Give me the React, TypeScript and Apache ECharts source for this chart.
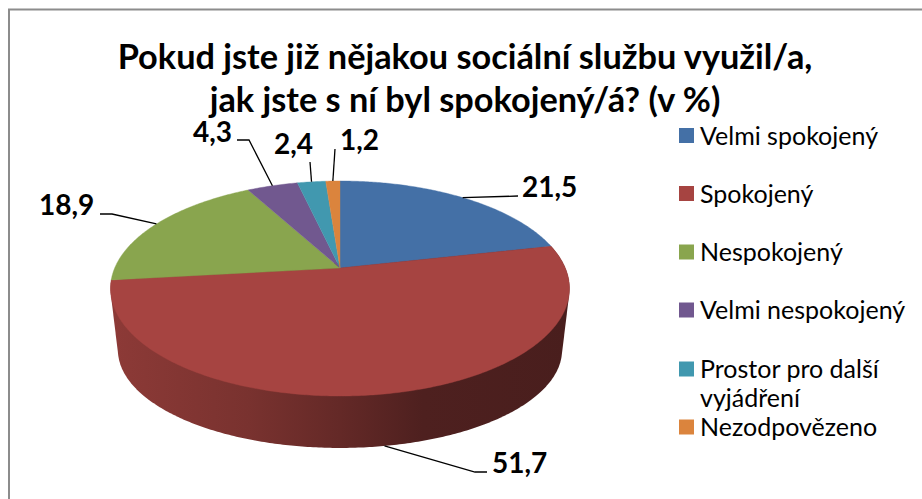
import React, { useEffect, useRef } from "react";
import * as echarts from "echarts";

const titleLines = ["Pokud jste již nějakou sociální službu využil/a,", "jak jste s ní byl spokojený/á? (v %)"];
const categories = ["Velmi spokojený", "Spokojený", "Nespokojený", "Velmi nespokojený", "Prostor pro další\nvyjádření", "Nezodpovězeno"];
const values = [21.5, 51.7, 18.9, 4.3, 2.4, 1.2];
const valueLabels = ["21,5", "51,7", "18,9", "4,3", "2,4", "1,2"];
const colors = ["#4470A6", "#A64441", "#89A54E", "#71588F", "#4198AF", "#DB843D"];

// layout of the projected disc: the same tilt for top and bottom rims
const TILT = 0.1907;
const topRim = { cx: 340, cy: 268, a: 225.3, b: 103.6 };
const lowRim = { cx: 340, cy: 331.3, a: 218, b: 94.4 };
const FONT = "Lato";

// leader elbows and label anchors (x, middle y), by slice
const leaderElbows: number[][][] = [
  [[518, 196]],
  [[475, 472], [487, 472]],
  [[112, 214], [100, 214]],
  [[249, 140], [237, 140]],
  [[310, 162]],
  [[335, 149]],
];
const labelAnchors: number[][] = [[522, 186], [492, 462], [39, 204], [193, 131], [274, 143], [340, 139]];
const legendRowY = [135.5, 193.5, 252, 310, 369, 427];

const total = values.reduce((s, v) => s + v, 0);
const starts = values.map((_, i) => values.slice(0, i).reduce((s, v) => s + v, 0));

function project(rim: typeof topRim, share: number): number[] {
  const t = (share / total) * Math.PI * 2;
  const u = Math.sin(t);
  const v = Math.cos(t);
  const d = 1 + TILT * v;
  return [rim.cx + (rim.a * u) / d, rim.cy - (rim.b * v) / d];
}

function arc(rim: typeof topRim, from: number, to: number): number[][] {
  const n = Math.max(4, Math.ceil((to - from) * 6));
  const pts: number[][] = [];
  for (let i = 0; i <= n; i++) pts.push(project(rim, from + ((to - from) * i) / n));
  return pts;
}

function hull(points: number[][]): number[][] {
  const p = [...points].sort((a, b) => a[0] - b[0] || a[1] - b[1]);
  const cross = (o: number[], a: number[], b: number[]) =>
    (a[0] - o[0]) * (b[1] - o[1]) - (a[1] - o[1]) * (b[0] - o[0]);
  const half = (list: number[][]) => {
    const out: number[][] = [];
    for (const q of list) {
      while (out.length > 1 && cross(out[out.length - 2], out[out.length - 1], q) <= 0) out.pop();
      out.push(q);
    }
    out.pop();
    return out;
  };
  return [...half(p), ...half([...p].reverse())];
}

function shade(hex: string, f: number): string {
  const n = parseInt(hex.slice(1), 16);
  const c = [(n >> 16) & 255, (n >> 8) & 255, n & 255].map((x) => Math.round(x * f));
  return `rgb(${c[0]},${c[1]},${c[2]})`;
}

const seriesData = values.map((value, i) => ({ name: categories[i], value }));

const renderSide = (params: any, api: any) => {
  const i = params.dataIndex;
  const from = starts[i];
  const to = from + api.value(0);
  // only a slice that faces the viewer shows its wall
  if (Math.cos((((from + to) / 2 / total) * Math.PI * 2)) > 0) return null;
  const pts = hull([...arc(topRim, from, to), ...arc(lowRim, from, to)]);
  const base = colors[i];
  return {
    type: "polygon",
    shape: { points: pts },
    style: {
      fill: new echarts.graphic.LinearGradient(0, 0, 1, 0, [
        { offset: 0, color: shade(base, 0.85) },
        { offset: 0.3, color: shade(base, 0.73) },
        { offset: 0.5, color: shade(base, 0.6) },
        { offset: 0.68, color: shade(base, 0.47) },
        { offset: 1, color: shade(base, 0.44) },
      ]),
    },
  };
};

const renderTop = (params: any, api: any) => {
  const i = params.dataIndex;
  const from = starts[i];
  const to = from + api.value(0);
  return {
    type: "polygon",
    shape: { points: [[topRim.cx, topRim.cy], ...arc(topRim, from, to)] },
    style: { fill: colors[i], stroke: colors[i], lineWidth: 0.4 },
  };
};

const renderLabel = (params: any, api: any) => {
  const i = params.dataIndex;
  const mid = starts[i] + api.value(0) / 2;
  const t = (mid / total) * Math.PI * 2;
  // a leader on the front of the disc starts on the lower rim
  const anchor = project(Math.cos(t) < -0.5 ? lowRim : topRim, mid);
  return {
    type: "group",
    children: [
      {
        type: "polyline",
        shape: { points: [anchor, ...leaderElbows[i]] },
        style: { stroke: "#000", lineWidth: 1.3, fill: "none" },
      },
      {
        type: "text",
        style: {
          x: labelAnchors[i][0],
          y: labelAnchors[i][1],
          text: valueLabels[i],
          fill: "#000",
          font: `bold 28px ${FONT}`,
          align: "left",
          verticalAlign: "middle",
        },
      },
    ],
  };
};

const renderLegend = (params: any) => {
  const i = params.dataIndex;
  const y = legendRowY[i];
  const wrapped = categories[i].includes("\n");
  const lineHeight = wrapped ? 28.5 : 22;
  return {
    type: "group",
    children: [
      { type: "rect", shape: { x: 679, y: y - 7.5, width: 15, height: 15 }, style: { fill: colors[i] } },
      {
        type: "text",
        style: {
          x: 700,
          y: y - 1 - lineHeight / 2,
          text: categories[i],
          fill: "#000",
          font: `25px ${FONT}`,
          lineHeight,
          align: "left",
          verticalAlign: "top",
        },
      },
    ],
  };
};

export default function App() {
  const ref = useRef<HTMLDivElement>(null);
  useEffect(() => {
    if (!ref.current) return;
    const chart = echarts.init(ref.current, undefined, { renderer: "svg" });
    chart.setOption({
      animation: false,
      backgroundColor: "#fff",
      title: {
        text: titleLines.join("\n"),
        left: 460,
        top: 29,
        textAlign: "center",
        textStyle: { fontFamily: FONT, fontWeight: "bold", fontSize: 34.3, lineHeight: 43, color: "#000" },
      },
      graphic: [
        { type: "line", shape: { x1: 8, y1: 9.5, x2: 922, y2: 9.5 }, style: { stroke: "#8c8c8c", lineWidth: 2 } },
        { type: "line", shape: { x1: 9, y1: 9, x2: 9, y2: 499 }, style: { stroke: "#8c8c8c", lineWidth: 2 } },
      ],
      series: [
        { type: "custom", coordinateSystem: "none", renderItem: renderSide, data: seriesData, silent: true, z: 1 },
        { type: "custom", coordinateSystem: "none", renderItem: renderTop, data: seriesData, silent: true, z: 2 },
        { type: "custom", coordinateSystem: "none", renderItem: renderLabel, data: seriesData, silent: true, z: 3 },
        { type: "custom", coordinateSystem: "none", renderItem: renderLegend, data: seriesData, silent: true, z: 3 },
      ],
    });
    return () => chart.dispose();
  }, []);
  return <div ref={ref} style={{ position: "absolute", left: 0, top: 0, width: 922, height: 499 }} />;
}
